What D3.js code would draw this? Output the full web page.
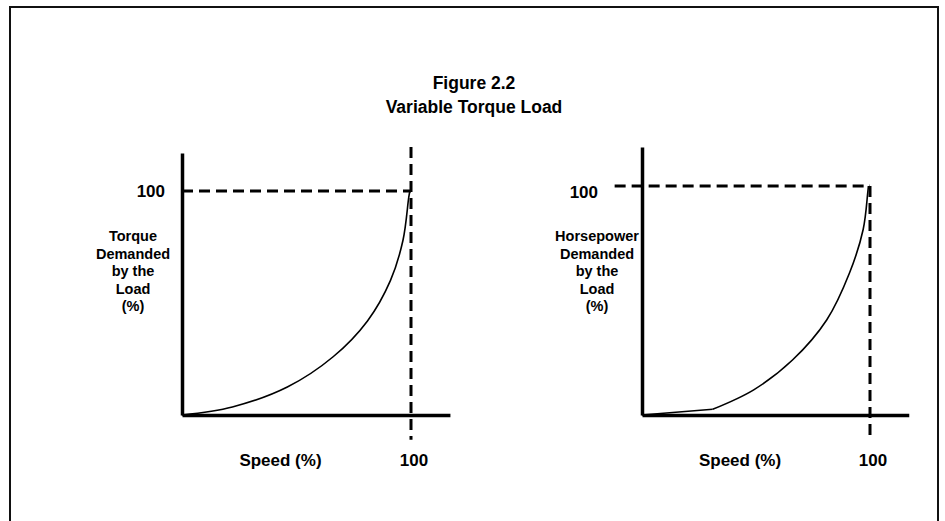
<!DOCTYPE html>
<html>
<head>
<meta charset="utf-8">
<script src="https://cdn.jsdelivr.net/npm/d3@7"></script>
<style>
  body { margin: 0; background: #fff; }
  text { font-family: "Liberation Sans", Arial, sans-serif; font-weight: bold; fill: #000; }
</style>
</head>
<body>
<div id="chart"></div>
<script>
// values (percent)
const torqueSpeed = [0, 22, 46, 66, 81, 91, 96.5, 99, 99.5];
const torqueValue = [0, 3.6, 12.5, 26, 42, 60, 78, 97, 100];

const hpSpeed = [0, 31, 49, 66, 81, 91, 97, 99, 99.3];
const hpValue = [0, 2.5, 11, 24, 41.5, 62, 81, 97, 100];

const titleLines = ["Figure 2.2", "Variable Torque Load"];
const torqueLabel = ["Torque", "Demanded", "by the", "Load", "(%)"];
const hpLabel = ["Horsepower", "Demanded", "by the", "Load", "(%)"];
const xLabel = "Speed (%)";
const refValue = 100;

const width = 945, height = 521;

const svg = d3.select("#chart")
  .append("svg")
    .attr("width", width)
    .attr("height", height);

// outer frame (bottom runs off the page)
svg.append("path")
  .attr("d", "M10,530 L10,7 L938,7 L938,530")
  .attr("fill", "none")
  .attr("stroke", "#111")
  .attr("stroke-width", 2);

// title
svg.selectAll(".title")
  .data(titleLines)
  .enter()
  .append("text")
    .attr("class", "title")
    .attr("x", 474)
    .attr("y", (d, i) => 89 + i * 24)
    .attr("text-anchor", "middle")
    .style("font-size", "17.5px")
    .text(d => d);

const panels = [
  {
    speed: torqueSpeed, value: torqueValue, label: torqueLabel,
    x: d3.scaleLinear().domain([0, 100]).range([182, 411]),
    y: d3.scaleLinear().domain([0, 100]).range([415, 191]),
    labelX: 133, tickX: 165, tickY: 197, hStart: 0, vTop: 119.6, kink: false
  },
  {
    speed: hpSpeed, value: hpValue, label: hpLabel,
    x: d3.scaleLinear().domain([0, 100]).range([642, 870]),
    y: d3.scaleLinear().domain([0, 100]).range([415, 186]),
    labelX: 597, tickX: 598, tickY: 198, hStart: -12, vTop: 100, kink: true
  }
];

panels.forEach(p => {
  const g = svg.append("g");
  const x = p.x, y = p.y;
  const pts = p.speed.map((s, i) => [s, p.value[i]]);

  // axes: domain line only, no ticks
  const yAxis = d3.axisLeft(d3.scaleLinear().domain([0, 117]).range([y(0), y(117)]))
    .tickValues([]).tickSizeOuter(0);
  const xAxis = d3.axisBottom(d3.scaleLinear().domain([0, 117]).range([x(0), x(117)]))
    .tickValues([]).tickSizeOuter(0);

  // dashed reference lines
  g.append("line")
    .attr("x1", x(p.hStart)).attr("x2", x(refValue))
    .attr("y1", y(refValue)).attr("y2", y(refValue))
    .attr("stroke", "#000").attr("stroke-width", 3)
    .attr("stroke-dasharray", "11,6");
  g.append("line")
    .attr("x1", x(refValue)).attr("x2", x(refValue))
    .attr("y1", y(p.vTop)).attr("y2", y(-11))
    .attr("stroke", "#000").attr("stroke-width", 3)
    .attr("stroke-dasharray", "11,6");

  g.append("g")
    .attr("transform", "translate(" + x(0) + ",0)")
    .call(yAxis)
    .select(".domain").attr("stroke", "#000").attr("stroke-width", 3.5);
  g.append("g")
    .attr("transform", "translate(0," + y(0) + ")")
    .call(xAxis)
    .select(".domain").attr("stroke", "#000").attr("stroke-width", 3.5);

  // the load curve
  const smooth = d3.line()
    .x(d => x(d[0])).y(d => y(d[1]))
    .curve(d3.curveCatmullRom.alpha(0.5));
  const straight = d3.line()
    .x(d => x(d[0])).y(d => y(d[1]));

  if (p.kink) {
    g.append("path")
      .attr("d", straight(pts.slice(0, 2)))
      .attr("fill", "none").attr("stroke", "#000").attr("stroke-width", 1.6);
    g.append("path")
      .attr("d", smooth(pts.slice(1)))
      .attr("fill", "none").attr("stroke", "#000").attr("stroke-width", 1.6);
  } else {
    g.append("path")
      .attr("d", smooth(pts))
      .attr("fill", "none").attr("stroke", "#000").attr("stroke-width", 1.6);
  }

  // labels
  g.append("text")
    .attr("x", p.tickX)
    .attr("y", p.tickY)
    .attr("text-anchor", "end")
    .style("font-size", "17px")
    .text(refValue);
  g.append("text")
    .attr("x", x(refValue) + 3)
    .attr("y", 466)
    .attr("text-anchor", "middle")
    .style("font-size", "17px")
    .text(refValue);
  g.append("text")
    .attr("x", x(43))
    .attr("y", 466)
    .attr("text-anchor", "middle")
    .style("font-size", "17px")
    .text(xLabel);

  g.append("text")
    .attr("text-anchor", "middle")
    .style("font-size", "14.5px")
    .selectAll("tspan")
    .data(p.label)
    .enter()
    .append("tspan")
      .attr("x", p.labelX)
      .attr("y", (d, i) => 241 + i * 17.5)
      .text(d => d);
});
</script>
</body>
</html>
